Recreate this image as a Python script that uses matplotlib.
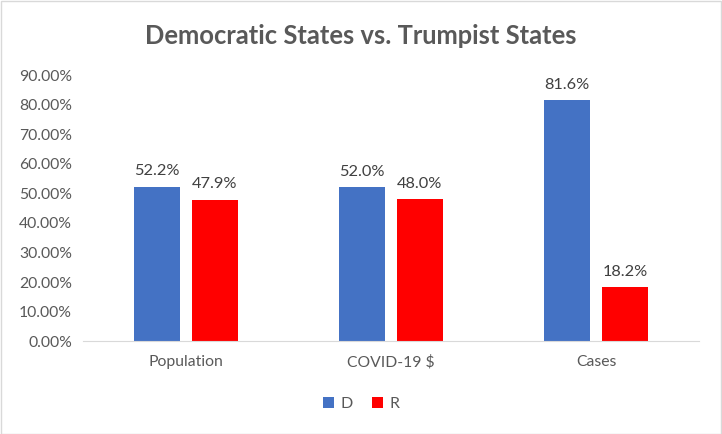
import numpy as np
import matplotlib.pyplot as plt
from matplotlib.patches import Rectangle

categories = ["Population", "COVID-19 $", "Cases"]
dem = [0.522, 0.520, 0.816]
rep = [0.479, 0.480, 0.182]
yticks = [0.0, 0.1, 0.2, 0.3, 0.4, 0.5, 0.6, 0.7, 0.8, 0.9]

plt.rcParams['font.family'] = ['Lato', 'DejaVu Sans']
text_color = '#595959'

fig = plt.figure(figsize=(7.22, 4.34), dpi=100)
ax = fig.add_axes([0.115, 0.214, 0.853, 0.613])

x = np.arange(len(categories))
w = 0.224
off = 0.141
b1 = ax.bar(x - off, dem, w, color='#4472C4', label='D')
b2 = ax.bar(x + off, rep, w, color='#FF0000', label='R')

# value labels above bars
for bars, vals in [(b1, dem), (b2, rep)]:
    for bar, v in zip(bars, vals):
        ax.annotate(f"{v*100:.1f}%", (bar.get_x() + bar.get_width() / 2, v),
                    textcoords="offset points", xytext=(0, 6), ha='center', va='bottom',
                    fontsize=11.8, color='#404040')

ax.set_xlim(-0.5, 2.5)
ax.set_ylim(0, 0.9)
ax.set_yticks(yticks)
ax.set_yticklabels([f"{t*100:.2f}%" for t in yticks])
ax.set_xticks(x)
ax.set_xticklabels(categories)
ax.tick_params(axis='both', length=0, labelsize=11.3, labelcolor=text_color)
ax.tick_params(axis='x', pad=10)
ax.tick_params(axis='y', pad=8)
for s in ['top', 'right', 'left']:
    ax.spines[s].set_visible(False)
ax.spines['bottom'].set_color('#D9D9D9')

fig.suptitle('Democratic States vs. Trumpist States', y=0.945, fontsize=18.4,
             fontweight='bold', color=text_color)

leg = fig.legend(loc='center', bbox_to_anchor=(0.5, 0.07), ncol=2, frameon=False,
                 handlelength=0.7, handleheight=0.7, handletextpad=0.4,
                 columnspacing=1.2, fontsize=11.5)
for t in leg.get_texts():
    t.set_color(text_color)

fig.patches.append(Rectangle((0.001, 0.001), 0.997, 0.997, transform=fig.transFigure,
                             fill=False, edgecolor='#D9D9D9', linewidth=1))

fig.savefig("out.png", dpi=100)
